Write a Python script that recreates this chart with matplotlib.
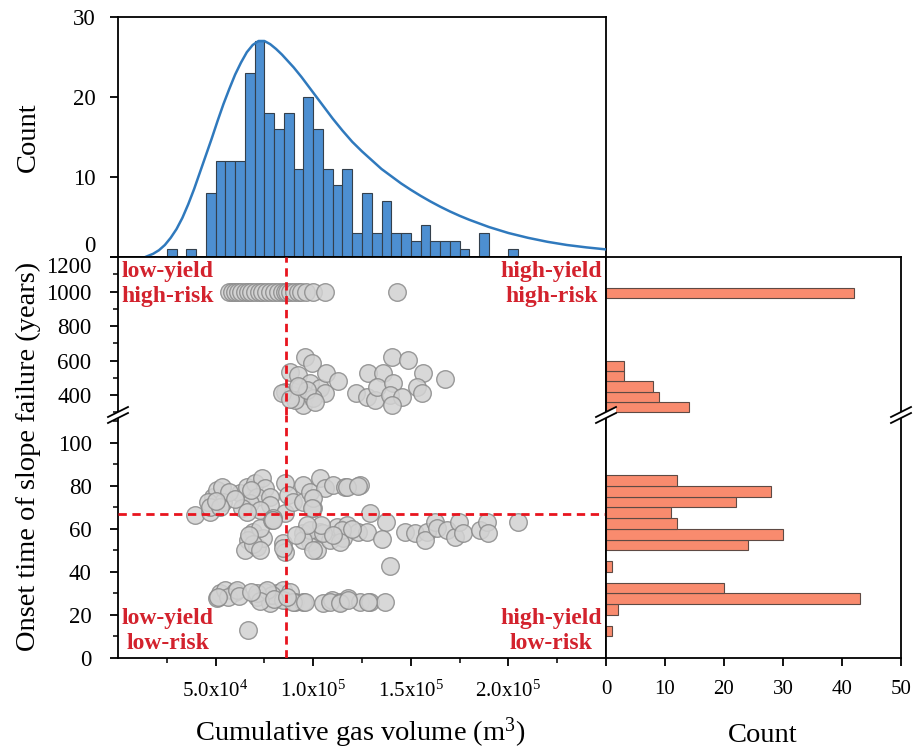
import matplotlib
matplotlib.use("Agg")
import matplotlib.pyplot as plt
import numpy as np
from matplotlib.ticker import MultipleLocator, FixedLocator
from matplotlib.lines import Line2D
from matplotlib.patches import Polygon

plt.rcParams['font.family'] = 'Liberation Serif'
plt.rcParams['mathtext.fontset'] = 'custom'
plt.rcParams['mathtext.rm'] = 'Liberation Serif'
plt.rcParams['mathtext.it'] = 'Liberation Serif:italic'

# ---------------- datos ----------------
# histograma superior (volumen de gas, bins de 5000 m3)
gas_bin_ini = [25, 35, 45, 50, 55, 60, 65, 70, 75, 80, 85, 90, 95, 100, 105, 110, 115, 120,
               125, 130, 135, 140, 145, 150, 155, 160, 165, 170, 175, 185, 200]
gas_conteo = [1, 1, 8, 12, 12, 12, 23, 27, 18, 16, 18, 11, 20, 16, 11, 9, 11, 3,
              8, 3, 7, 3, 3, 2, 4, 2, 2, 2, 1, 3, 1]

# curva de ajuste
ajuste_x = [14.5, 18, 21, 24, 27, 30, 33, 36, 39, 42, 45, 48, 51, 54, 57, 60, 63, 66, 69,
            72, 75, 78, 81, 84, 87, 90, 94, 98, 102, 106, 110, 115, 120, 125, 130, 135, 140,
            145, 150, 155, 160, 165, 170, 175, 180, 190, 200, 210, 220, 230, 240, 250]
ajuste_y = [0.05, 0.4, 0.85, 1.5, 2.4, 3.5, 4.9, 6.6, 8.5, 10.6, 12.7, 14.8, 17.0, 19.1,
            21.0, 22.8, 24.3, 25.6, 26.5, 27.0, 27.0, 26.6, 26.0, 25.3, 24.5, 23.7, 22.5,
            21.2, 19.9, 18.6, 17.3, 15.8, 14.4, 13.2, 12.1, 11.0, 10.1, 9.2, 8.4, 7.65,
            6.95, 6.3, 5.7, 5.15, 4.65, 3.75, 3.0, 2.4, 1.9, 1.5, 1.2, 0.95]

# histograma derecho (tiempo de inicio)
t_bin_bajo = [10, 20, 25, 30, 40, 50, 55, 60, 65, 70, 75, 80]
t_conteo_bajo = [1, 2, 43, 20, 1, 24, 30, 12, 11, 22, 28, 12]
t_bin_alto = [300, 360, 420, 480, 540, 960]
t_conteo_alto = [14, 9, 8, 3, 3, 42]

# dispersion: volumen (miles de m3) y tiempo (anios)
gas_1000 = [57, 58.5, 60, 61.5, 63, 65, 66.5, 68, 70, 72, 74, 76, 78, 80, 82, 84, 85.5, 86.5,
            88, 90, 92, 94, 96.5, 100, 106, 143]
t_1000 = [1000] * len(gas_1000)

gas_alto = [95.8, 99.2, 88.1, 92.4, 85.6, 89.0, 93.2, 98.4, 103.5, 106.1, 95.8, 94.9, 90.7,
            100.1, 106.6, 112.9, 121.9, 127.4, 131.7, 128.2, 135.9, 132.5, 140.2, 148.7, 141.0,
            139.3, 145.3, 140.2, 156.4, 153.0, 155.6, 167.5, 83.9, 88, 97, 101, 92]
t_alto = [622, 587, 535, 516, 419, 400, 448, 468, 439, 410, 400, 342, 371,
          381, 526, 483, 410, 390, 371, 529, 526, 448, 622, 603, 468,
          400, 390, 342, 526, 448, 410, 491, 412, 380, 430, 360, 455]

gas_medio = [39.4, 47.1, 48.8, 50.5, 53.1, 53.9, 46.3, 47.1, 62.5, 65.9, 70.2, 73.6, 75.3, 71,
             67.6, 63.4, 77.9, 77.9, 72.7, 65.9, 85.6, 87.2, 85.6, 79.6, 89.8, 94.9, 94.9,
             100.1, 98.4, 103.5, 106, 110.3, 116.3, 124, 100.1, 99.2, 117.2, 123.1, 129.1,
             57, 60, 68, 52, 50]
t_medio = [66.5, 68, 75, 78, 79.7, 72.7, 72.7, 70.4, 76.6, 79.7, 81.3, 83.6, 78.9, 75,
           72, 69.6, 75, 71.2, 68.8, 68, 81.3, 75.8, 67.3, 65, 72.7, 80.5, 72.7,
           69.6, 77.4, 83.6, 78.9, 80.5, 79.7, 80.5, 74.3, 69.6, 79.7, 80, 67.6,
           77, 74, 78, 70, 73]

gas_banda = [69.3, 66.8, 65.1, 71, 74.4, 72.7, 78.7, 84.7, 85.6, 94.9, 98.4, 103.5, 101.8,
             108.6, 112, 117.2, 115.4, 123.1, 127.4, 137.3, 135.1, 147, 152.2, 158.1, 157.3,
             162.4, 163.3, 168.4, 172.6, 174.8, 176.9, 185.5, 188.9, 189.7, 204.8, 139.5,
             98.4, 105, 94.8, 100, 115, 113.8, 79.5, 84.5, 69, 67, 73, 104, 110, 120, 97, 91]
t_banda = [58.7, 54.9, 50.2, 51.8, 55.7, 60.3, 64.2, 53.3, 49.4, 58, 54.1, 58.7, 50.2,
           54.9, 61.1, 61.9, 55.7, 58.7, 58.7, 63.4, 55.2, 58.7, 58, 58.7, 54.9,
           63.4, 60.3, 59.5, 56.1, 63.4, 58, 59.5, 63.4, 58, 63.4, 43,
           59.5, 58, 55, 50, 59.5, 54, 64, 51, 53, 57, 50, 62, 57, 60, 62, 57]

gas_bajo = [52.3, 50.5, 54.8, 59.9, 56.5, 71, 75.3, 77.9, 81.3, 84.7, 85.6, 88.1, 90.7, 94.9,
            78.7, 105.2, 109.5, 113.7, 118, 124, 129.1, 136.8, 66.8, 51.4, 60.8, 71, 76.2,
            84.7, 89.8, 95.8, 108.6, 113.7, 118, 128.2, 73, 80, 86.5, 62, 68]
t_bajo = [30.1, 27.8, 31.6, 30.8, 28.5, 28.5, 30.8, 25.4, 30.1, 31.6, 27, 30.8, 26.2, 26.2,
          29.3, 25.4, 27, 26.2, 27.8, 26.2, 26.2, 26.2, 13, 28.5, 31.6, 30, 31.6,
          27, 26.2, 26.2, 26.2, 25.4, 27, 26.2, 26.5, 27.5, 28.5, 29, 30.5]

gas_corte = 86000   # linea vertical
t_corte = 67        # linea horizontal

# ---------------- figura ----------------
W, H = 914, 751
rojo = '#d3222d'
rojo_linea = '#e8141e'
fs_ytick = 16.5
fs_xtick = 15
fs_lab = 20.5


def fx(px):
    return px / W


def fy(py):
    return 1 - py / H


fig = plt.figure(figsize=(W / 100, H / 100), dpi=100)

x0, x1, x2 = 118, 606, 901
y_top, y_mid, y_brk, y_bot = 17, 257, 415, 658

ax_top = fig.add_axes([fx(x0), fy(y_mid), fx(x1) - fx(x0), fy(y_top) - fy(y_mid)])
ax_up = fig.add_axes([fx(x0), fy(y_brk), fx(x1) - fx(x0), fy(y_mid) - fy(y_brk)])
ax_lo = fig.add_axes([fx(x0), fy(y_bot), fx(x1) - fx(x0), fy(y_brk) - fy(y_bot)])
ax_rup = fig.add_axes([fx(x1), fy(y_brk), fx(x2) - fx(x1), fy(y_mid) - fy(y_brk)])
ax_rlo = fig.add_axes([fx(x1), fy(y_bot), fx(x2) - fx(x1), fy(y_brk) - fy(y_bot)])

for ax in (ax_top, ax_up, ax_lo, ax_rup, ax_rlo):
    for s in ax.spines.values():
        s.set_linewidth(1.3)
    ax.tick_params(direction='out', width=1.3, length=6)
    ax.tick_params(axis='y', labelsize=fs_ytick, pad=10)
    ax.tick_params(axis='x', labelsize=fs_xtick, pad=10)
    ax.tick_params(which='minor', direction='out', width=1.1, length=3.5)

# histograma superior
ax_top.bar(np.array(gas_bin_ini) * 1000, gas_conteo, width=5000, align='edge',
           color='#4d8fd1', edgecolor='#34404c', linewidth=0.8, zorder=2)
ax_top.plot(np.array(ajuste_x) * 1000, ajuste_y, color='#2f79bd', lw=1.8, zorder=3)
ax_top.set_xlim(0, 250000)
ax_top.set_ylim(0, 30)
ax_top.set_yticks([0, 10, 20, 30])
ax_top.tick_params(bottom=False, labelbottom=False)
ax_top.get_yticklabels()[0].set_va('bottom')

# dispersion (dos tramos)
gx = np.array(gas_1000 + gas_alto + gas_medio + gas_banda + gas_bajo) * 1000
gy = np.array(t_1000 + t_alto + t_medio + t_banda + t_bajo)
for ax in (ax_up, ax_lo):
    ax.scatter(gx, gy, s=160, facecolor='#d2d2d2', edgecolor='#8a8a8a', linewidth=1.0,
               alpha=0.85, zorder=3)
    ax.axvline(gas_corte, color=rojo_linea, lw=2, linestyle=(0, (3, 2)), zorder=4)
    ax.set_xlim(0, 250000)
    ax.tick_params(axis='y', pad=13)
ax_lo.axhline(t_corte, color=rojo_linea, lw=2, linestyle=(0, (3, 2)), zorder=4)

ax_up.set_ylim(285, 1200)
ax_up.set_yticks([400, 600, 800, 1000, 1200])
ax_up.yaxis.set_minor_locator(FixedLocator([300, 500, 700, 900, 1100]))
ax_up.tick_params(bottom=False, labelbottom=False)
ax_up.spines['bottom'].set_visible(False)
ax_up.get_yticklabels()[-1].set_va('top')

ax_lo.set_ylim(0, 113)
ax_lo.set_yticks([0, 20, 40, 60, 80, 100])
ax_lo.yaxis.set_minor_locator(MultipleLocator(10))
ax_lo.spines['top'].set_visible(False)
ax_lo.set_xticks([50000, 100000, 150000, 200000])
ax_lo.set_xticklabels(['5.0x10$^4$', '1.0x10$^5$', '1.5x10$^5$', '2.0x10$^5$'])
ax_lo.xaxis.set_minor_locator(FixedLocator([25000, 75000, 125000, 175000, 225000]))

# textos de cuadrantes
kw = dict(ha='center', va='center', color=rojo, fontsize=17, fontweight='bold', linespacing=1.25)
ax_up.text(0.1025, 0.826, 'low-yield\nhigh-risk', transform=ax_up.transAxes, **kw)
ax_up.text(0.888, 0.826, 'high-yield\nhigh-risk', transform=ax_up.transAxes, **kw)
ax_lo.text(0.1025, 0.113, 'low-yield\nlow-risk', transform=ax_lo.transAxes, **kw)
ax_lo.text(0.888, 0.113, 'high-yield\nlow-risk', transform=ax_lo.transAxes, **kw)

# histograma derecho
for ax, ini, cnt, ancho in ((ax_rup, t_bin_alto, t_conteo_alto, 60),
                            (ax_rlo, t_bin_bajo, t_conteo_bajo, 5)):
    ax.barh(ini, cnt, height=ancho, align='edge', color='#f98b6e', edgecolor='#5e4a44',
            linewidth=0.8, zorder=2)
    ax.set_xlim(0, 50)
    ax.tick_params(left=False, labelleft=False)
ax_rup.set_ylim(ax_up.get_ylim())
ax_rlo.set_ylim(ax_lo.get_ylim())
ax_rup.tick_params(bottom=False, labelbottom=False)
ax_rup.spines['bottom'].set_visible(False)
ax_rlo.spines['top'].set_visible(False)
ax_rlo.set_xticks([0, 10, 20, 30, 40, 50])


# marcas de corte del eje
def marca_corte(px, py):
    x, y = fx(px), fy(py)
    dx, dy, g = 10 / W, 5 / H, 3 / H
    poly = Polygon([[x - dx, y - dy - g], [x + dx, y + dy - g], [x + dx, y + dy + g],
                    [x - dx, y - dy + g]], closed=True, facecolor='white', edgecolor='none',
                   transform=fig.transFigure, zorder=10)
    fig.add_artist(poly)
    for s in (-g, g):
        fig.add_artist(Line2D([x - dx, x + dx], [y - dy + s, y + dy + s], color='black',
                              lw=1.3, transform=fig.transFigure, zorder=11))


for px in (x0, x1, x2):
    marca_corte(px, y_brk)

# etiquetas de ejes
fig.text(fx(28), fy(137), 'Count', rotation=90, ha='center', va='center', fontsize=fs_lab)
fig.text(fx(28), fy(456), 'Onset time of slope failure (years)', rotation=90,
         ha='center', va='center', fontsize=fs_lab)
fig.text(fx(360), fy(733), 'Cumulative gas volume (m$^3$)', ha='center', va='center',
         fontsize=fs_lab)
fig.text(fx(763), fy(735), 'Count', ha='center', va='center', fontsize=fs_lab)

fig.savefig('out.png', dpi=100)
